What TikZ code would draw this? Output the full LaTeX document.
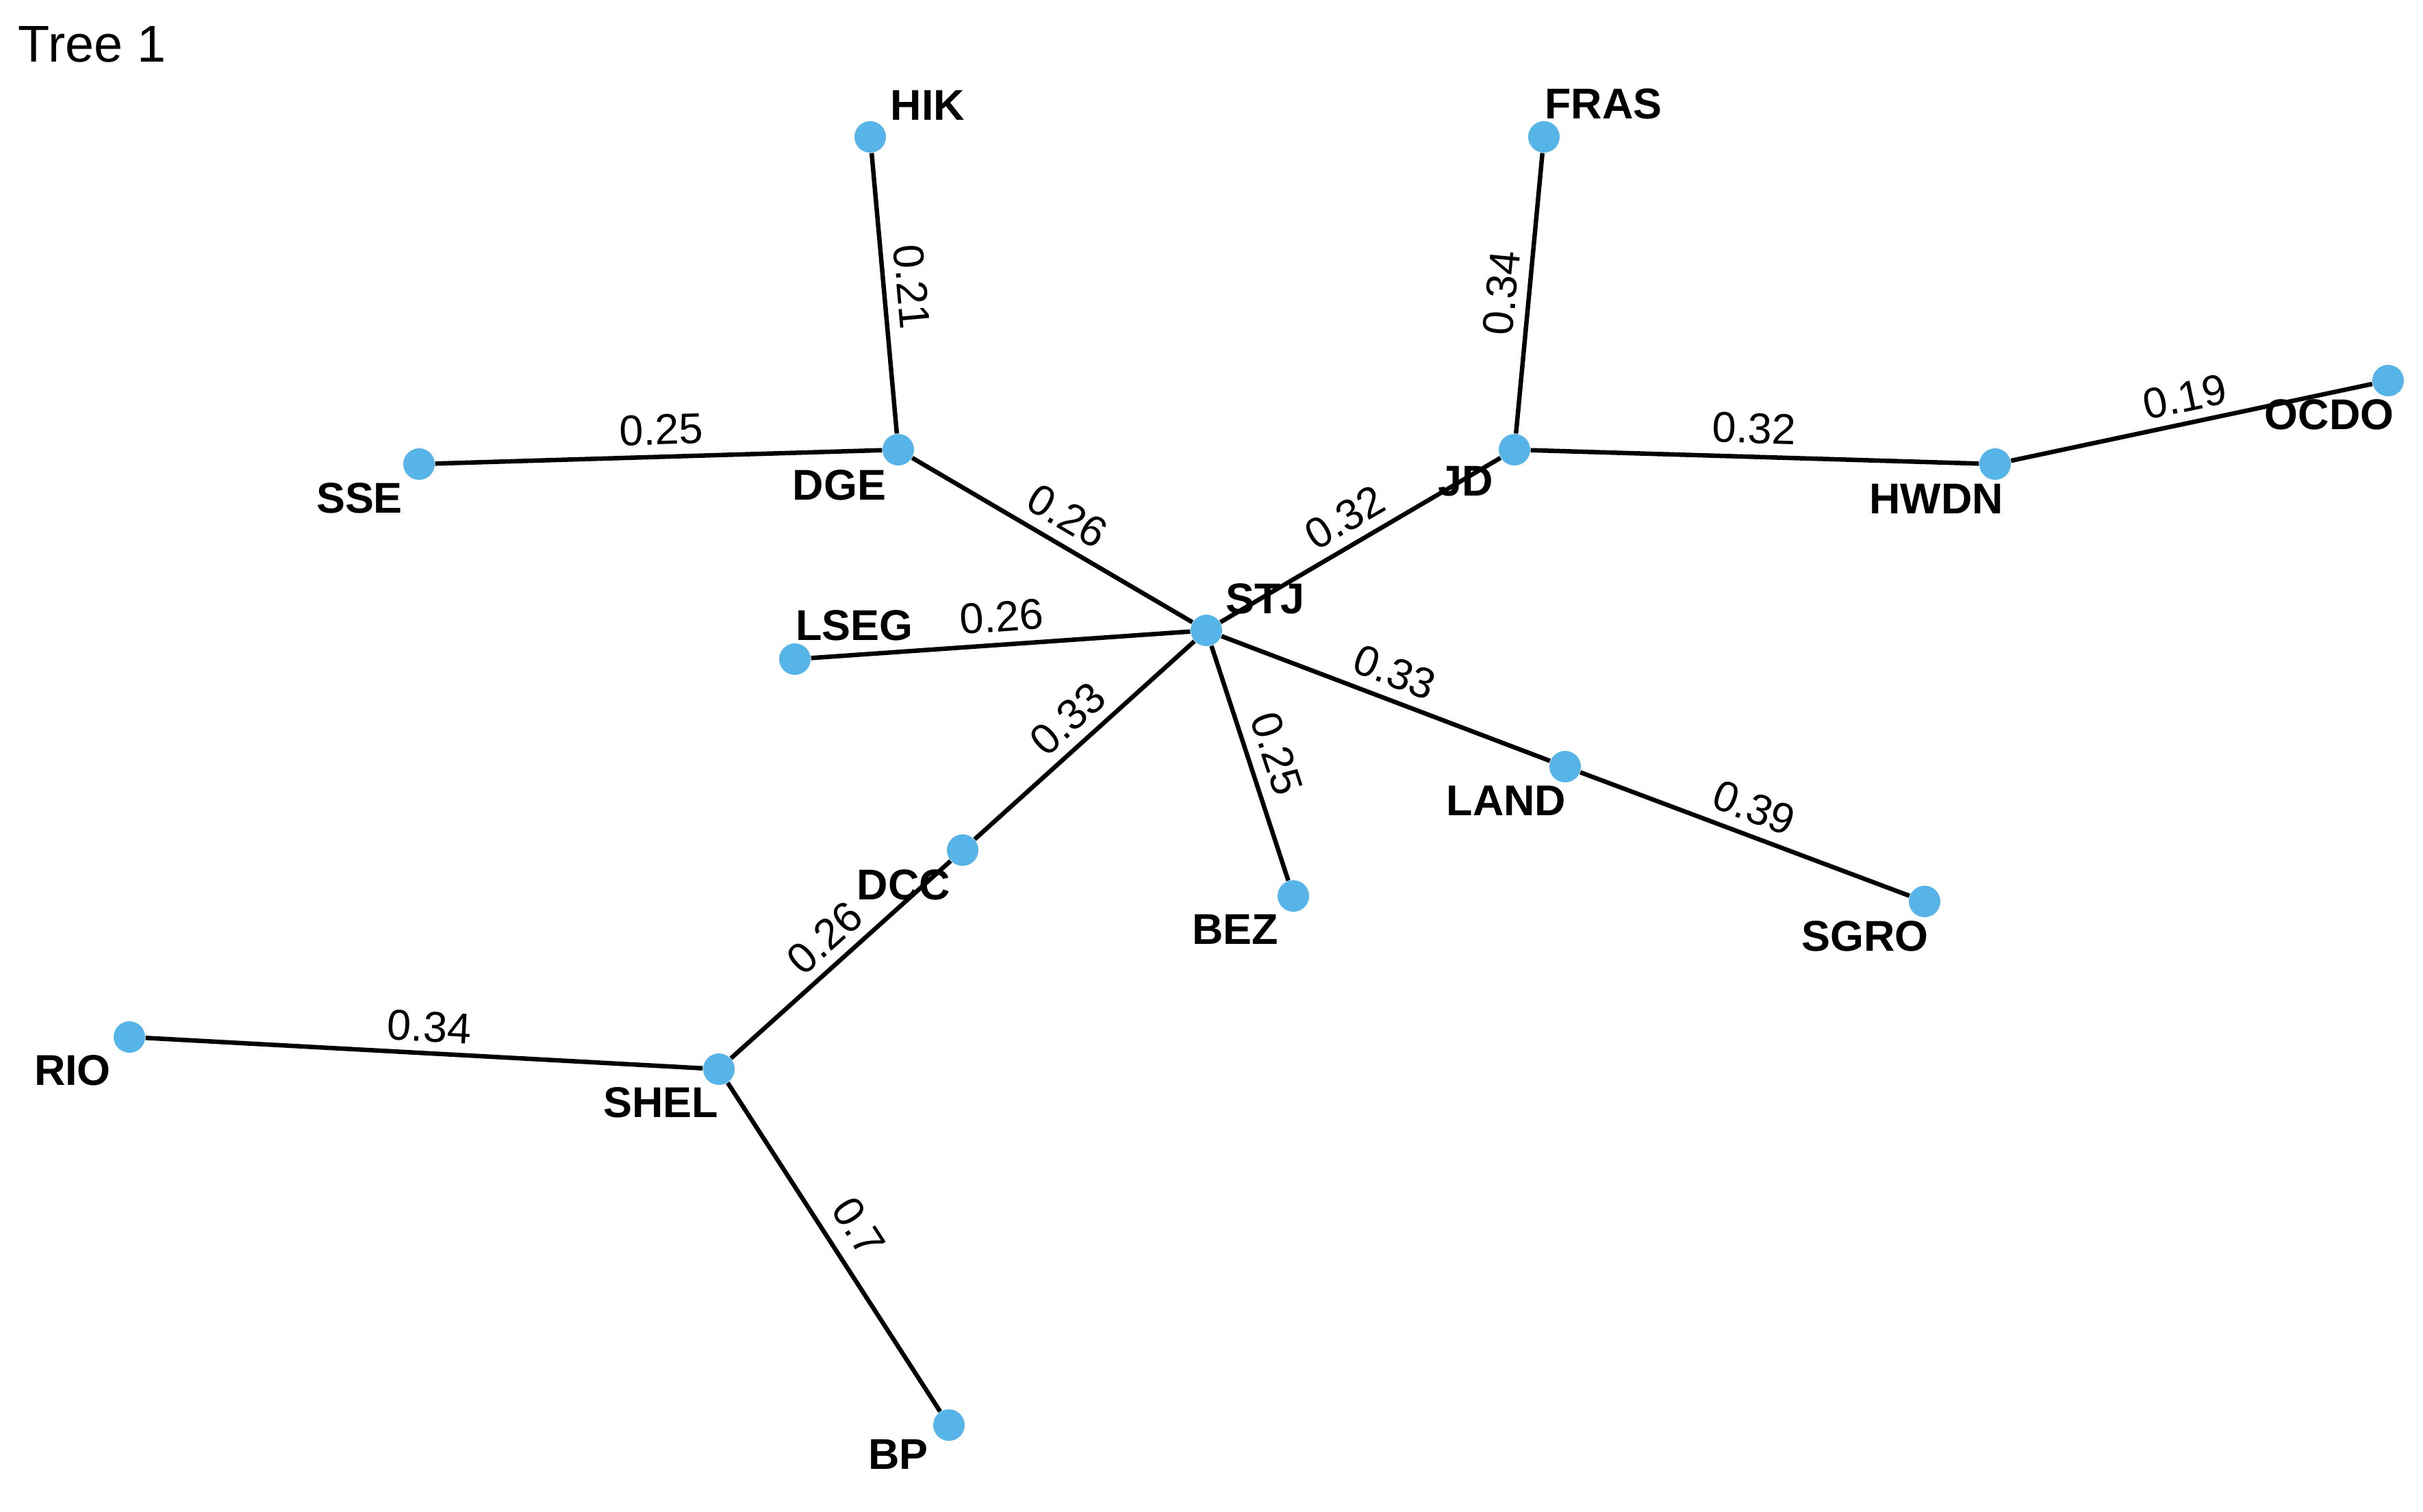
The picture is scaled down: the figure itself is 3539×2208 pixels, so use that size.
\documentclass[tikz,border=0pt]{standalone}
\usepackage{fontspec}
\setmainfont{Liberation Sans}
\definecolor{dotblue}{HTML}{56B4E9}
\begin{document}
\begin{tikzpicture}[x=0.1mm,y=-0.1mm,
  dot/.style={circle,fill=dotblue,draw=none,minimum size=4.6mm,inner sep=0pt},
  link/.style={line width=0.65mm,black},
  lbl/.style={font={\fontsize{17.9}{20}\selectfont\bfseries},inner sep=0pt},
  wt/.style={font={\fontsize{17.9}{20}\selectfont},inner sep=0pt}]
\useasboundingbox (0,0) rectangle (3539,2208);
\fill[white] (0,0) rectangle (3539,2208);

% title
\node[font={\fontsize{21.5}{24}\selectfont},inner sep=0pt,anchor=base west] (title) at (26,90) {Tree 1};

% vertices
\node[dot] (HIK)  at (1271,200) {};
\node[dot] (DGE)  at (1312,657) {};
\node[dot] (SSE)  at (612,678) {};
\node[dot] (STJ)  at (1762,921) {};
\node[dot] (LSEG) at (1161,963) {};
\node[dot] (FRAS) at (2255,200) {};
\node[dot] (JD)   at (2212,657) {};
\node[dot] (HWDN) at (2914,678) {};
\node[dot] (OCDO) at (3488,556) {};
\node[dot] (DCC)  at (1406,1242) {};
\node[dot] (SHEL) at (1050,1562) {};
\node[dot] (RIO)  at (189,1515) {};
\node[dot] (BP)   at (1386,2082) {};
\node[dot] (BEZ)  at (1889,1309) {};
\node[dot] (LAND) at (2286,1120) {};
\node[dot] (SGRO) at (2811,1317) {};

% edges
\draw[link] (HIK) -- (DGE);
\draw[link] (SSE) -- (DGE);
\draw[link] (DGE) -- (STJ);
\draw[link] (LSEG) -- (STJ);
\draw[link] (STJ) -- (JD);
\draw[link] (JD) -- (FRAS);
\draw[link] (JD) -- (HWDN);
\draw[link] (HWDN) -- (OCDO);
\draw[link] (STJ) -- (LAND);
\draw[link] (LAND) -- (SGRO);
\draw[link] (STJ) -- (BEZ);
\draw[link] (STJ) -- (DCC);
\draw[link] (DCC) -- (SHEL);
\draw[link] (RIO) -- (SHEL);
\draw[link] (SHEL) -- (BP);

% edge weights
\node[wt,rotate=-84.87] (wHIK)  at (1332,419)  {0.21};
\node[wt,rotate=1.72]   (wSSE)  at (966,628)   {0.25};
\node[wt,rotate=-30.4]  (wDGE)  at (1559,754)  {0.26};
\node[wt,rotate=4.0]    (wLSEG) at (1463,901)  {0.26};
\node[wt,rotate=30.4]   (wJD)   at (1964,756)  {0.32};
\node[wt,rotate=84.6]   (wFRAS) at (2193,428)  {0.34};
\node[wt,rotate=-1.71]  (wHWDN) at (2562,626)  {0.32};
\node[wt,rotate=12.0]   (wOCDO) at (3191,580)  {0.19};
\node[wt,rotate=-20.8]  (wLAND) at (2037,982)  {0.33};
\node[wt,rotate=-20.6]  (wSGRO) at (2562,1180) {0.39};
\node[wt,rotate=-71.9]  (wBEZ)  at (1865,1101) {0.25};
\node[wt,rotate=42.0]   (wDCC)  at (1559,1050) {0.33};
\node[wt,rotate=41.96]  (wSHEL) at (1205,1370) {0.26};
\node[wt,rotate=-3.12]  (wRIO)  at (627,1500)  {0.34};
\node[wt,rotate=-57.1]  (wBP)   at (1254,1792) {0.7};

% vertex labels
\node[lbl] (lHIK)  at (1355,154)  {HIK};
\node[lbl] (lSSE)  at (525,728)   {SSE};
\node[lbl] (lDGE)  at (1226,709)  {DGE};
\node[lbl] (lLSEG) at (1248,914)  {LSEG};
\node[lbl] (lFRAS) at (2342,152)  {FRAS};
\node[lbl] (lJD)   at (2141,703)  {JD};
\node[lbl] (lHWDN) at (2828,729)  {HWDN};
\node[lbl] (lOCDO) at (3402,606)  {OCDO};
\node[lbl] (lSTJ)  at (1848,875)  {STJ};
\node[lbl] (lDCC)  at (1320,1293) {DCC};
\node[lbl] (lRIO)  at (106,1564)  {RIO};
\node[lbl] (lSHEL) at (965,1611)  {SHEL};
\node[lbl] (lBP)   at (1312,2125) {BP};
\node[lbl] (lBEZ)  at (1804,1358) {BEZ};
\node[lbl] (lLAND) at (2200,1170) {LAND};
\node[lbl] (lSGRO) at (2724,1368) {SGRO};
\end{tikzpicture}
\end{document}
